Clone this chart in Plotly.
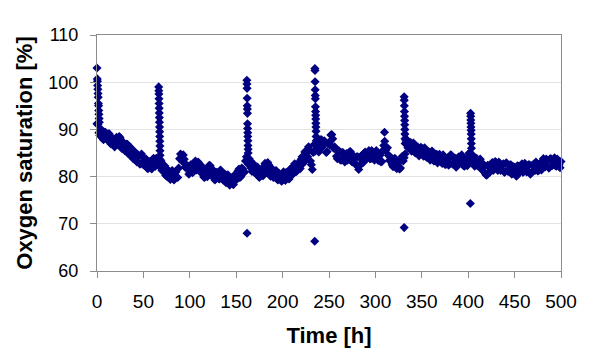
import plotly.graph_objects as go

# Baseline samples every 2 h (0..500)
base_t = list(range(0, 501, 2))
base_v = [
    91.2, 89.3, 89.8, 88.1, 89.4, 88.1, 89.0, 87.2, 88.3, 87.0,
    87.8, 86.8, 88.5, 86.7, 87.2, 85.5, 86.9, 84.8, 86.2, 84.5,
    85.3, 83.4, 84.6, 82.7, 84.8, 82.5, 83.5, 81.8, 83.2, 81.9,
    83.6, 82.3, 83.9, 82.8, 83.6, 81.3, 82.2, 80.3, 81.5, 79.8,
    81.0, 79.6, 80.9, 79.9, 81.8, 84.8, 83.2, 83.7, 81.9, 82.2,
    80.8, 82.3, 81.1, 83.3, 81.8, 82.7, 80.8, 81.6, 79.8, 81.4,
    80.5, 82.3, 80.3, 81.2, 79.5, 80.7, 79.5, 81.2, 79.3, 80.5,
    80.2, 78.6, 79.6, 78.5, 80.1, 79.3, 81.2, 79.8, 81.8, 80.8,
    83.3, 83.2, 83.8, 81.8, 82.7, 80.8, 81.8, 80.1, 81.2, 80.3,
    82.2, 81.3, 83.0, 80.8, 81.7, 79.8, 81.0, 79.5, 80.7, 79.3,
    80.7, 79.4, 80.9, 79.8, 81.5, 80.3, 82.2, 81.1, 82.7, 81.8,
    83.7, 82.8, 85.2, 84.2, 86.3, 83.3, 81.5, 86.8, 85.8, 86.7,
    85.8, 87.8, 86.8, 87.2, 85.3, 87.2, 88.8, 88.0, 86.3, 84.3,
    85.2, 83.6, 85.1, 83.8, 84.7, 83.5, 85.2, 83.3, 84.5, 82.8,
    84.2, 81.5, 84.2, 83.3, 85.0, 83.8, 85.0, 83.8, 85.5, 83.8,
    85.2, 83.8, 84.7, 83.1, 85.5, 87.5, 86.0, 84.5, 84.2, 82.5,
    83.7, 82.1, 83.2, 81.6, 83.5, 83.3, 84.8, 87.8, 86.1, 87.2,
    85.6, 86.8, 85.1, 86.2, 84.8, 86.0, 84.3, 85.7, 84.1, 85.2,
    83.8, 85.0, 83.5, 84.7, 83.3, 84.5, 82.8, 84.2, 82.6, 84.0,
    82.8, 84.5, 82.8, 83.9, 82.3, 84.2, 83.1, 83.9, 82.2, 83.9,
    82.8, 84.3, 84.7, 82.8, 83.9, 82.3, 83.5, 81.8, 82.7, 80.8,
    80.3, 82.2, 81.3, 83.0, 81.8, 83.0, 81.3, 82.7, 81.5, 82.7,
    81.1, 82.7, 81.3, 82.5, 80.8, 81.9, 80.1, 82.2, 81.1, 82.7,
    81.1, 82.5, 81.3, 82.5, 80.8, 82.5, 81.3, 82.7, 81.3, 82.9,
    83.2, 82.3, 83.7, 82.1, 83.7, 82.3, 83.5, 82.3, 83.7, 82.5,
    83.2,
]

# Samples at odd hours (1..499)
odd_t = list(range(1, 500, 2))
odd_v = [
    91.0, 88.7, 89.9, 87.8, 89.4, 87.8, 89.1, 86.9, 87.9, 86.3,
    88.3, 86.9, 88.2, 85.9, 87.1, 85.6, 86.8, 84.7, 85.6, 83.8,
    85.2, 83.1, 84.3, 82.7, 84.2, 82.4, 83.7, 81.7, 83.0, 81.6,
    83.9, 82.2, 83.9, 82.2, 83.3, 81.3, 82.3, 80.1, 81.0, 79.4,
    81.3, 79.3, 81.0, 79.8, 83.8, 83.7, 84.6, 82.0, 82.4, 80.5,
    82.5, 80.8, 82.7, 81.4, 83.1, 81.3, 82.2, 79.9, 81.0, 80.0,
    82.4, 80.3, 81.4, 79.3, 80.9, 79.6, 81.4, 79.5, 80.3, 78.7,
    80.4, 78.2, 79.7, 78.3, 80.5, 79.7, 81.6, 80.0, 81.6, 81.0,
    84.2, 82.6, 83.4, 81.1, 82.6, 80.7, 82.0, 79.8, 81.2, 80.2,
    82.8, 81.3, 82.5, 80.1, 81.6, 79.9, 81.3, 79.3, 80.4, 79.0,
    81.0, 79.2, 80.9, 79.5, 81.7, 80.7, 82.7, 81.1, 82.6, 81.7,
    84.2, 83.1, 85.4, 84.2, 85.6, 82.5, 85.1, 85.4, 86.7, 85.2,
    87.8, 86.3, 87.6, 85.1, 87.0, 86.7, 88.9, 86.0, 85.9, 83.8,
    85.4, 83.5, 85.1, 83.1, 84.9, 83.8, 85.3, 83.1, 84.0, 82.5,
    84.2, 82.3, 84.4, 83.0, 85.2, 83.9, 85.5, 83.8, 85.0, 83.5,
    85.5, 83.4, 84.5, 83.2, 86.6, 85.5, 86.1, 83.4, 83.9, 82.1,
    83.9, 81.7, 83.2, 81.8, 84.3, 84.0, 87.6, 86.1, 87.0, 85.4,
    87.1, 85.0, 86.2, 84.4, 86.2, 84.6, 86.1, 84.1, 85.0, 83.5,
    85.4, 83.3, 84.7, 82.9, 84.7, 83.1, 84.6, 82.6, 83.7, 82.4,
    84.6, 82.7, 83.9, 82.0, 84.0, 83.1, 84.6, 82.3, 83.5, 82.3,
    85.0, 83.6, 84.4, 82.2, 83.9, 82.4, 83.7, 81.4, 82.1, 80.4,
    82.4, 80.9, 82.7, 81.3, 83.2, 81.6, 83.1, 81.3, 82.5, 80.9,
    82.9, 81.1, 82.5, 80.5, 82.1, 80.6, 82.3, 80.8, 82.3, 80.9,
    82.8, 81.0, 82.5, 80.5, 82.4, 81.4, 83.1, 81.2, 82.5, 81.4,
    83.8, 82.1, 83.5, 81.8, 83.8, 82.4, 84.0, 82.2, 83.4, 81.9,
]

# Spikes (rapid sampling) and isolated outliers
spike_t = [
    0.0, 0.3, 0.5, 0.7, 0.9, 1.1, 1.3, 1.5, 1.7, 1.9, 2.1, 2.3, 2.5,
    66.5, 66.6, 66.7, 66.8, 66.9, 67.0, 67.1, 67.2, 67.3, 67.4, 67.5, 67.6, 67.7, 67.8, 67.9, 68.0,
    161.5, 161.6, 161.7, 161.8, 161.9, 162.0, 162.1, 162.2, 162.3, 162.4, 162.5, 162.6, 162.7, 162.8, 162.9,
    234.8, 234.9, 235.0, 235.1, 235.2, 235.3, 235.4, 235.5, 235.6, 235.7, 235.8, 235.9, 236.0, 236.1, 236.2,
    309.8,
    331.0, 331.1, 331.2, 331.3, 331.4, 331.5, 331.6, 331.7, 331.8, 331.9, 332.0,
    402.6, 402.7, 402.8, 402.9, 403.0, 403.1, 403.2, 403.3, 403.4, 403.5,
    161.7, 234.6, 331.0, 402.3,
]
spike_v = [
    103.0, 100.7, 100.2, 99.3, 98.5, 97.6, 96.8, 95.5, 95.0, 94.0, 93.2, 92.3, 91.5,
    99.0, 98.2, 97.5, 96.5, 95.5, 94.5, 93.5, 92.5, 91.5, 90.5, 89.5, 88.5, 87.5, 86.5, 85.5, 84.5,
    100.4, 99.6, 98.7, 96.6, 95.0, 94.3, 93.4, 91.2, 90.2, 89.3, 88.5, 87.6, 86.6, 85.8, 85.0,
    102.9, 102.5, 100.1, 98.4, 97.2, 96.5, 94.8, 93.8, 93.0, 92.2, 91.3, 90.5, 89.6, 88.5, 87.6,
    89.4,
    96.9, 96.2, 95.0, 93.8, 92.8, 91.9, 91.0, 90.0, 89.0, 88.0, 87.0,
    93.4, 92.8, 92.0, 91.3, 90.5, 89.8, 89.0, 88.0, 87.0, 86.0,
    68.0, 66.3, 69.2, 74.3,
]

x_ticks = [0, 50, 100, 150, 200, 250, 300, 350, 400, 450, 500]
y_ticks = [60, 70, 80, 90, 100, 110]

t_all = base_t + odd_t + spike_t
v_all = base_v + odd_v + spike_v

NAVY = "#000080"
FONT = "Arial, Liberation Sans, sans-serif"

fig = go.Figure()
fig.add_trace(go.Scatter(
    x=t_all, y=v_all, mode="markers",
    marker=dict(symbol="diamond", size=7, color=NAVY, line=dict(width=0)),
    cliponaxis=False, showlegend=False, hoverinfo="x+y",
))

# page body adds an 8 px offset; figure sized to fill the rest of the window
fig.update_layout(
    width=592, height=353,
    margin=dict(l=88.5, r=39, t=27, b=90),
    paper_bgcolor="white", plot_bgcolor="white",
    font=dict(family=FONT, color="black"),
)
fig.update_xaxes(
    range=[0, 500], tickvals=x_ticks, ticktext=[str(v) for v in x_ticks],
    showline=True, linecolor="#8c8c8c", linewidth=1, mirror=True,
    ticks="outside", ticklen=6, tickcolor="#8c8c8c",
    showgrid=False, zeroline=False, automargin=False,
    tickfont=dict(size=19, family=FONT),
    ticklabelstandoff=7,
    title=dict(text="<b>Time [h]</b>", font=dict(size=22, family=FONT), standoff=16),
)
fig.update_yaxes(
    range=[60, 110], tickvals=y_ticks, ticktext=[str(v) for v in y_ticks],
    showline=True, linecolor="#8c8c8c", linewidth=1, mirror=True,
    ticks="outside", ticklen=6, tickcolor="#8c8c8c",
    showgrid=True, gridcolor="#e3e3e3", gridwidth=1, zeroline=False, automargin=False,
    tickfont=dict(size=18, family=FONT),
    ticklabelstandoff=8,
    title=dict(text="<b>Oxygen saturation [%]</b>", font=dict(size=22, family=FONT), standoff=9),
)

fig.write_html("out.html")
